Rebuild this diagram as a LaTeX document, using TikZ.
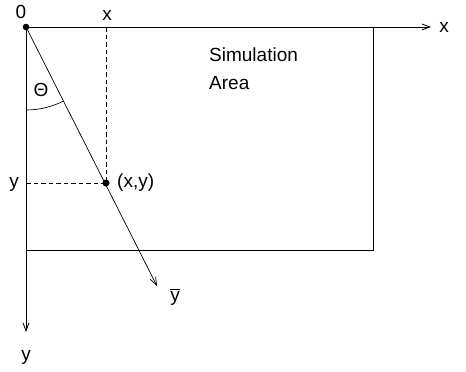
\documentclass[tikz,border=0pt]{standalone}
\usepackage{fontspec}
\setmainfont{Liberation Sans}
\usetikzlibrary{arrows.meta}
\begin{document}
\begin{tikzpicture}[x=1pt,y=-1pt,
  lbl/.style={font=\fontsize{19}{22}\selectfont, inner sep=0pt},
  ax/.style={line width=0.8pt, -{Straight Barb[length=8pt,width=6pt]}},
  guide/.style={dashed, line width=0.6pt, dash pattern=on 4.5pt off 3pt},
  thin/.style={line width=0.7pt}]
\useasboundingbox (0,0) rectangle (466,372);
\coordinate (O) at (26,27);
\coordinate (P) at (106,183);
\coordinate (xend) at (431,27);
\coordinate (yend) at (26,332);
\coordinate (ybend) at (157,286);
\coordinate (xtop) at (106,27);
\coordinate (yleft) at (26,183);
% simulation area
\draw[thin] (O) rectangle (373,250);
% axes
\draw[ax] (O) -- (xend);
\draw[ax] (O) -- (yend);
\draw[ax, line width=0.7pt] (O) -- (ybend);
% dashed guides
\draw[guide] (xtop) -- (P);
\draw[guide] (yleft) -- (P);
% angle arc
\draw[thin] (26,110) arc[start angle=90, end angle=62.9, radius=83];
% dots
\fill (O) circle (3.3pt);
\fill (P) circle (3.5pt);
% labels
\node[lbl] (l0) at (21,12) {0};
\node[lbl] (lx) at (107,15) {x};
\node[lbl] (lxa) at (444,27) {x};
\node[lbl] (ly) at (14,184) {y};
\node[lbl] (lya) at (26,357) {y};
\node[lbl] (lth) at (41,90) {Θ};
\node[lbl, anchor=west] (lp) at (117,183) {(x,y)};
\node[lbl] (lyb) at (175,297) {$\overline{\mbox{y}}$};
\node[lbl, anchor=west, align=left] (sim) at (209,69) {Simulation\\[6pt]Area};
\end{tikzpicture}
\end{document}
